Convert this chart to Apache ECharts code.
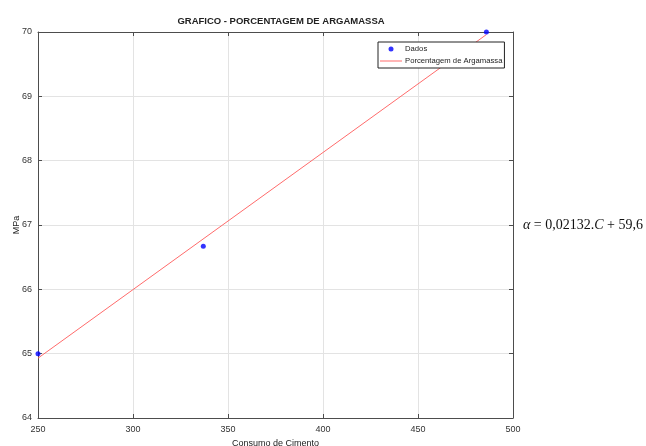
<!DOCTYPE html>
<html>
<head>
<meta charset="utf-8">
<script src="https://cdn.jsdelivr.net/npm/echarts@6/dist/echarts.min.js"></script>
<style>
  html, body { margin: 0; padding: 0; background: #fff; }
  #chart { width: 646px; height: 446px; }
</style>
</head>
<body>
<div id="chart"></div>
<script>
// dados medidos
const consumo = [250, 337, 486]
const mpa = [65, 66.67, 70]
// reta ajustada (extremos)
const retaX = [250, 486]
const retaY = [64.93, 69.96]
const xTicks = [250, 300, 350, 400, 450, 500]
const yTicks = [64, 65, 66, 67, 68, 69, 70]

const chart = echarts.init(document.getElementById('chart'))

const tickFont = { color: '#333', fontSize: 9, fontFamily: 'Liberation Sans' }
const boxLine = { show: true, lineStyle: { color: '#4d4d4d', width: 1 } }
const tickIn = { show: true, inside: true, length: 4, lineStyle: { color: '#4d4d4d' } }

chart.setOption({
  animation: false,
  title: {
    text: 'GRAFICO - PORCENTAGEM DE ARGAMASSA',
    left: 276,
    top: 11,
    textAlign: 'center',
    textStyle: { fontSize: 9.5, fontWeight: 'bold', color: '#222', fontFamily: 'Liberation Sans' }
  },
  grid: { left: 38, right: 133, top: 32, bottom: 28, outerBoundsMode: 'none', containLabel: false },
  legend: {
    left: 378,
    top: 42,
    orient: 'vertical',
    itemGap: 4,
    itemWidth: 22,
    itemHeight: 8,
    padding: [3, 2, 3, 2],
    borderColor: '#222',
    borderWidth: 1,
    backgroundColor: '#fff',
    textStyle: { fontSize: 7.7, color: '#222', fontFamily: 'Liberation Sans', padding: [0, 0, 0, -2] },
    data: [
      { name: 'Dados', icon: 'path://M0,0M22,8M11,1.5A2.5,2.5,0,1,1,11,6.5A2.5,2.5,0,1,1,11,1.5Z' },
      { name: 'Porcentagem de Argamassa', icon: 'path://M0,0M22,8M0,3.5L22,3.5L22,4.5L0,4.5Z' }
    ]
  },
  xAxis: [{
    type: 'value',
    min: 250,
    max: 500,
    interval: 50,
    name: 'Consumo de Cimento',
    nameLocation: 'middle',
    nameGap: 17,
    nameTextStyle: { fontSize: 9, color: '#222', fontFamily: 'Liberation Sans' },
    axisLine: boxLine,
    axisTick: tickIn,
    axisLabel: Object.assign({ margin: 7 }, tickFont),
    splitLine: { show: true, lineStyle: { color: '#e3e3e3' } }
  }, {
    type: 'value',
    position: 'top',
    min: 250,
    max: 500,
    interval: 50,
    axisLine: boxLine,
    axisTick: tickIn,
    axisLabel: { show: false },
    splitLine: { show: false }
  }],
  yAxis: [{
    type: 'value',
    min: 64,
    max: 70,
    interval: 1,
    name: 'MPa',
    nameLocation: 'middle',
    nameGap: 17,
    nameMoveOverlap: false,
    nameTextStyle: { fontSize: 9, color: '#222', fontFamily: 'Liberation Sans' },
    axisLine: boxLine,
    axisTick: tickIn,
    axisLabel: Object.assign({ margin: 6 }, tickFont),
    splitLine: { show: true, lineStyle: { color: '#e3e3e3' } }
  }, {
    type: 'value',
    position: 'right',
    min: 64,
    max: 70,
    interval: 1,
    axisLine: boxLine,
    axisTick: tickIn,
    axisLabel: { show: false },
    splitLine: { show: false }
  }],
  series: [
    {
      name: 'Porcentagem de Argamassa',
      type: 'line',
      data: retaX.map((x, i) => [x, retaY[i]]),
      showSymbol: false,
      lineStyle: { color: '#ff6b6b', width: 1 },
      itemStyle: { color: '#ff6b6b' },
      z: 2
    },
    {
      name: 'Dados',
      type: 'scatter',
      data: consumo.map((x, i) => [x, mpa[i]]),
      symbol: 'circle',
      symbolSize: 5,
      itemStyle: { color: '#0000ff' },
      z: 3
    }
  ],
  graphic: [{
    type: 'text',
    left: 523,
    top: 218,
    style: {
      text: '{i|α} = 0,02132.{i|C} + 59,6',
      font: '14px "Liberation Serif"',
      fill: '#111',
      rich: {
        i: { fontStyle: 'italic', fontSize: 14, fontFamily: 'Liberation Serif', fill: '#111' }
      }
    }
  }]
})
</script>
</body>
</html>
